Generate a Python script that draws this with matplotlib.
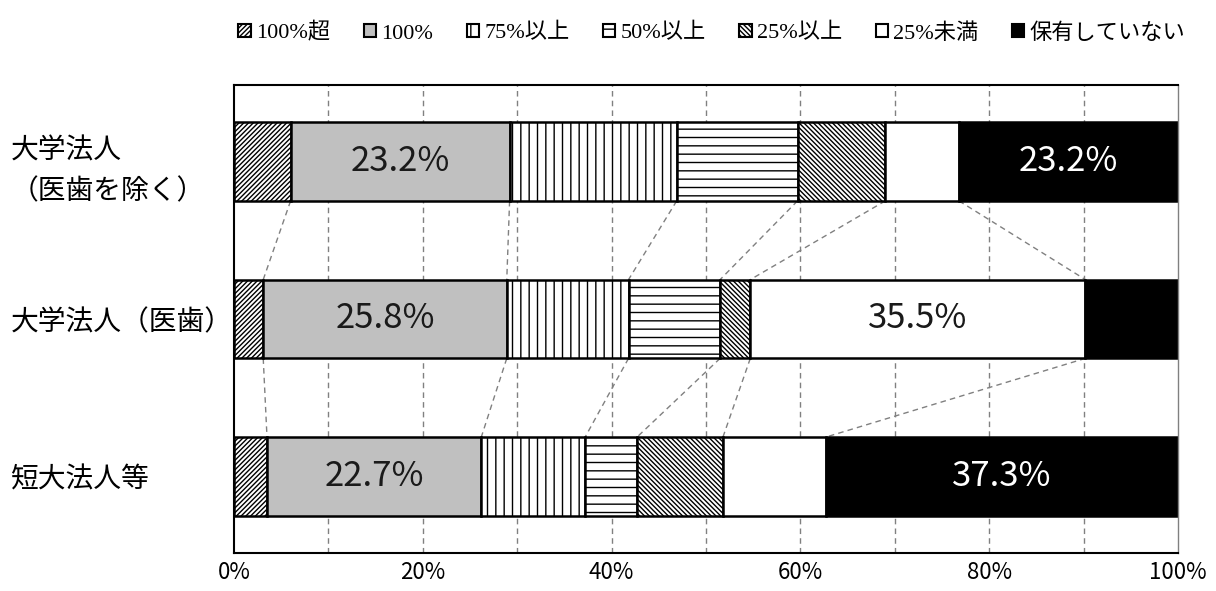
import numpy as np
import matplotlib.pyplot as plt
from matplotlib.patches import Patch

plt.rcParams['font.family'] = ['Noto Sans CJK JP', 'DejaVu Sans']
plt.rcParams['hatch.linewidth'] = 1.0

# 法人区分ごとの保有割合（%）
groups = ['大学法人\n（医歯を除く）', '大学法人（医歯）', '短大法人等']
levels = ['100%超', '100%', '75%以上', '50%以上', '25%以上', '25%未満', '保有していない']
over_100 = [6.0, 3.1, 3.5]
full_100 = [23.2, 25.8, 22.7]
above_75 = [17.7, 12.9, 11.0]
above_50 = [12.8, 9.7, 5.5]
above_25 = [9.3, 3.2, 9.1]
under_25 = [7.8, 35.5, 10.9]
none_held = [23.2, 9.8, 37.3]

series = [over_100, full_100, above_75, above_50, above_25, under_25, none_held]
faces = ['white', '#c0c0c0', 'white', 'white', 'white', 'white', 'black']
hatches = ['/' * 7, None, '||', '--', '\\' * 7, None, None]

fig = plt.figure(figsize=(12.16, 5.91), dpi=100)
ax = fig.add_axes([0.1924, 0.0643, 0.7763, 0.7919])

y = np.arange(len(groups))
bar_h = 0.5
left = np.zeros(len(groups))
for vals, fc, h, name in zip(series, faces, hatches, levels):
    vals = np.array(vals)
    ax.barh(y, vals, left=left, height=bar_h, color=fc, hatch=h,
            edgecolor='black', linewidth=1.8, zorder=2, label=name)
    for yi, v, l in zip(y, vals, left):
        if v >= 20:
            ax.text(l + v / 2, yi, f'{v:.1f}%', ha='center', va='center',
                    fontsize=25, color='white' if fc == 'black' else '#1a1a1a',
                    zorder=3)
    left = left + vals

# 区分間をつなぐ破線
cum = np.cumsum(np.array(series), axis=0)
for i in range(len(groups) - 1):
    for k in range(len(series) - 1):
        ax.plot([cum[k, i], cum[k, i + 1]], [i + bar_h / 2, i + 1 - bar_h / 2],
                color='#808080', lw=1, ls=(0, (4, 3)), zorder=1)

for gx in range(10, 100, 10):
    ax.axvline(gx, color='#808080', lw=1, ls=(0, (4, 3)), zorder=0)

ax.set_xlim(0, 100)
ax.set_ylim(2.486, -0.486)
ax.set_xticks(range(0, 101, 20))
ax.set_xticklabels([f'{t}%' for t in range(0, 101, 20)], fontsize=16)
ax.set_yticks(y)
ax.set_yticklabels(groups, fontsize=20, ha='left', linespacing=1.5)
ax.tick_params(axis='y', length=0, pad=161)
ax.tick_params(axis='x', length=0, pad=6)
for s in ['left', 'top', 'bottom']:
    ax.spines[s].set_linewidth(1.5)
ax.spines['right'].set_color('#808080')
ax.spines['right'].set_linewidth(1)

handles = [Patch(facecolor=fc, hatch=h, edgecolor='black', linewidth=1.5)
           for fc, h in zip(faces, hatches)]
fig.legend(handles, levels, loc='center', bbox_to_anchor=(0.5855, 0.944),
           ncol=7, frameon=False,
           prop=dict(family=['Liberation Serif', 'Noto Sans CJK JP'], size=16),
           handlelength=0.55, handleheight=0.55, handletextpad=0.25,
           columnspacing=1.5)

fig.savefig('out.png', dpi=100)
